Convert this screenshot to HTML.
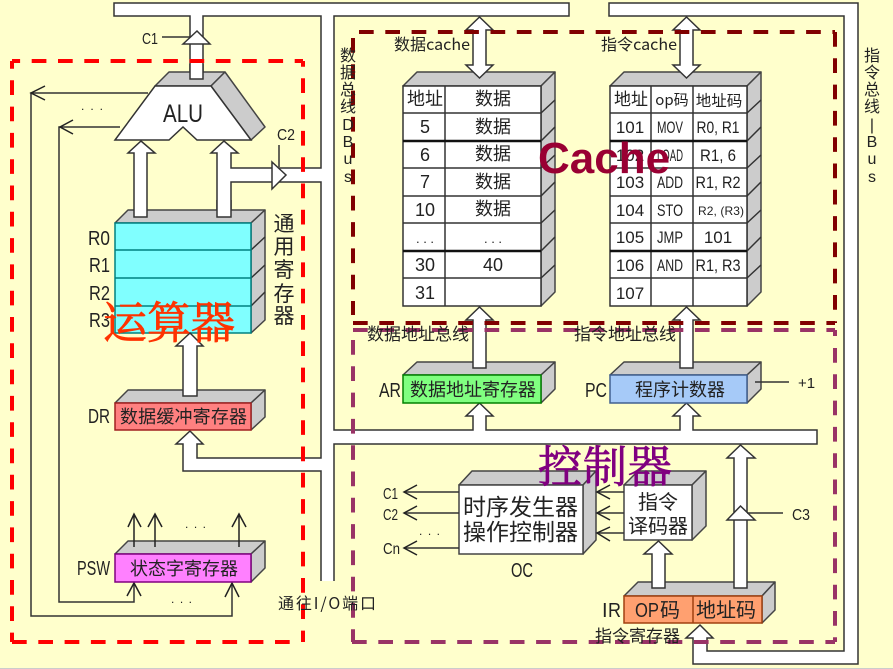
<!DOCTYPE html>
<html><head><meta charset="utf-8"><style>
html,body{margin:0;padding:0;background:#ffffcc;width:893px;height:669px;overflow:hidden}
svg{display:block}
text{font-family:"Liberation Sans","Noto Sans CJK SC",sans-serif;fill:#222}
.z{font-family:"Noto Sans CJK SC","Liberation Sans",sans-serif}
.w{fill:#fff;stroke:#333;stroke-width:1.5;stroke-linejoin:miter}
.g{fill:#ccc;stroke:#444;stroke-width:1.5;stroke-linejoin:round}
.l{fill:none;stroke:#333;stroke-width:1.5}
.t{stroke:#222;stroke-width:1.5;fill:none}
.b{stroke:#111;stroke-width:2.5}
</style></head><body>
<svg width="893" height="669" viewBox="0 0 893 669" xmlns="http://www.w3.org/2000/svg">
<rect width="893" height="669" fill="#ffffcc"/>
<rect y="668" width="893" height="1" fill="#ccc"/>

<!-- data bus -->
<path class="w" d="M114 3H569V16H334V430H473V416H466L479.500 403L493 416H486V430H680V416H673L686.500 403L700 416H693V430H817V444H334V582H321V471H183V444H176L190 431L203 444H197V458H321V182H231V217H217V153H211L224 141L238 153H231V168H321V16H203V79H190V16H114Z"/>
<rect x="320" y="581" width="15" height="3" fill="#ffffcc"/>
<polygon class="w" points="272,162 286,175 272,189"/>
<path class="l" d="M279 145V167"/>

<!-- instruction bus -->
<path class="w" d="M609 3H858V664H693V638H686L700 625L713 638H707V651H844V16H609Z"/>

<!-- C1 arrow -->
<polygon class="w" points="183,44 197,31 210,44"/>
<path class="l" d="M162 37H190"/>

<!-- ALU -->
<polygon class="g" points="155,86 169,72 225,72 211,86"/>
<polygon class="g" points="211,86 225,72 265,127 251,140"/>
<polygon class="w" points="115,140 155,86 211,86 251,140 197,140 183,127 169,140"/>
<path class="w" d="M190 64V79H203V64"/>
<rect x="191" y="60" width="11" height="18" fill="#fff"/>

<!-- left control lines -->
<path class="l" d="M148 93H31V616H232V584"/>
<path class="t" d="M45 86L31 93L45 100"/>
<path class="l" d="M120 127H59V602H134V584"/>
<path class="t" d="M73 120L60 127L73 134"/>
<path class="t" d="M127 596L134 583L141 596M225 597L232 583L239 597"/>

<!-- registers -->
<polygon class="g" points="115,223 128,210 265,210 251,223"/>
<polygon class="g" points="251,223 265,210 265,320 251,333"/>
<path class="l" d="M251 250L265 237M251 278L265 265M251 306L265 292"/>
<rect x="115" y="223" width="136" height="110" fill="#80ffff" stroke="#008080" stroke-width="1.500"/>
<path d="M115 250H251M115 278H251M115 306H251" stroke="#008080" stroke-width="1.500"/>
<polygon class="w" points="134,217 134,153 128,153 141,141 155,153 147,153 147,217"/>
<path class="w" d="M217 200V217H231V200"/>
<rect x="218" y="198" width="12" height="18" fill="#fff"/>

<!-- DR -->
<polygon class="g" points="115,403 128,390 265,390 251,403"/>
<polygon class="g" points="251,403 265,390 265,417 251,430"/>
<rect x="115" y="403" width="136" height="27" fill="#ff8080" stroke="#a02020" stroke-width="1.500"/>
<polygon class="w" points="183,396 183,346 176,346 190,333 203,346 197,346 197,396"/>

<!-- PSW -->
<polygon class="g" points="115,554 128,541 265,541 251,554"/>
<polygon class="g" points="251,554 265,541 265,568 251,582"/>
<rect x="115" y="554" width="136" height="28" fill="#ff80ff" stroke="#800080" stroke-width="1.500"/>
<path class="t" d="M134 547V514M128 527L134 514L141 527M155 547V514M148 527L155 514L162 527M239 547V514M232 527L239 514L246 527"/>

<!-- data table -->
<polygon class="g" points="403,86 417,72 555,72 541,86"/>
<polygon class="g" points="541,86 555,72 555,292 541,306"/>
<path class="l" d="M541 113L555 100M541 141L555 127M541 168L555 155M541 196L555 182M541 223L555 210M541 251L555 237M541 278L555 265"/>
<rect x="403" y="86" width="138" height="220" fill="#fff" stroke="#333" stroke-width="1.500"/>
<path class="l" d="M445 86V306M403 113H541M403 168H541M403 196H541M403 223H541M403 278H541"/>
<path class="b" d="M403 141H541M403 251H541"/>

<!-- instruction table -->
<polygon class="g" points="610,86 624,72 761,72 747,86"/>
<polygon class="g" points="747,86 761,72 761,292 747,306"/>
<path class="l" d="M747 113L761 100M747 141L761 127M747 168L761 155M747 196L761 182M747 223L761 210M747 251L761 237M747 278L761 265"/>
<rect x="610" y="86" width="137" height="220" fill="#fff" stroke="#333" stroke-width="1.500"/>
<path class="l" d="M651 86V306M693 86V306M610 113H747M610 168H747M610 196H747M610 223H747M610 278H747"/>
<path class="b" d="M610 141H747M610 251H747"/>

<!-- double arrows -->
<polygon class="w" points="479.500,17 493,30 486,30 486,65 493,65 479.500,78 466,65 473,65 473,30 466,30"/>
<polygon class="w" points="686.500,17 700,30 693,30 693,65 700,65 686.500,78 673,65 680,65 680,30 673,30"/>

<!-- AR PC -->
<polygon class="g" points="403,375 417,362 555,362 541,375"/>
<polygon class="g" points="541,375 555,362 555,389 541,403"/>
<rect x="403" y="375" width="138" height="28" fill="#80ff80" stroke="#008000" stroke-width="1.500"/>
<polygon class="g" points="610,375 624,362 761,362 747,375"/>
<polygon class="g" points="747,375 761,362 761,389 747,403"/>
<rect x="610" y="375" width="137" height="28" fill="#a6caf8" stroke="#406090" stroke-width="1.500"/>
<polygon class="w" points="473,368 473,320 466,320 479.500,307 493,320 486,320 486,368"/>
<polygon class="w" points="680,368 680,320 673,320 686.500,307 700,320 693,320 693,368"/>
<path class="l" d="M755 382H789"/>

<!-- OC -->
<polygon class="g" points="459,485 472,471 596,471 583,485"/>
<polygon class="g" points="583,485 596,471 596,540 583,554"/>
<rect x="459" y="485" width="124" height="69" fill="#fff" stroke="#444" stroke-width="1.500"/>
<path class="l" d="M459 492H404M459 513H404M459 548H404"/>
<path class="t" d="M417 485L404 492L417 499M417 506L404 513L417 520M417 541L404 548L417 555"/>
<!-- decoder -->
<polygon class="g" points="624,485 638,471 706,471 692,485"/>
<polygon class="g" points="692,485 706,471 706,526 692,540"/>
<rect x="624" y="485" width="68" height="55" fill="#fff" stroke="#444" stroke-width="1.500"/>
<path class="l" d="M624 492H597M624 513H597M624 533H597"/>
<path class="t" d="M610 485L597 492L610 499M610 506L597 513L610 520M610 527L597 533L610 541"/>

<!-- IR -->
<polygon class="g" points="624,596 638,582 775,582 762,596"/>
<polygon class="g" points="762,596 775,582 775,610 762,623"/>
<rect x="624" y="596" width="138" height="27" fill="#ffa070" stroke="#a04010" stroke-width="1.500"/>
<path d="M693 596V623" stroke="#a04010" stroke-width="1.500"/>
<polygon class="w" points="652,588 652,554 644,554 658.500,541 672,554 665,554 665,588"/>
<polygon class="w" points="734,588 734,458 727,458 740.500,445 755,458 747,458 747,588"/>
<polygon class="w" points="727,520 740.500,506 755,520"/>
<path class="l" d="M747 513H783"/>

<!-- dashed -->
<g fill="none" stroke="#ff0000" stroke-width="4" stroke-dasharray="14.700 11.600">
<path d="M12 61H303" stroke-dashoffset="6.600"/>
<path d="M12 61V642" stroke-dashoffset="7"/>
<path d="M303 61V642" stroke-dashoffset="9"/>
<path d="M12 642H291"/>
</g>
<g fill="none" stroke="#800000" stroke-width="4" stroke-dasharray="14.700 11.600">
<path d="M359 32H835"/>
<path d="M353 38V315"/>
<path d="M835 32V323"/>
<path d="M353 323H835"/>
</g>
<g fill="none" stroke="#993366" stroke-width="4" stroke-dasharray="14.700 11.600">
<path d="M353 330H835"/>
<path d="M353 340V642"/>
<path d="M835 348V642"/>
<path d="M835 330V336" stroke-dasharray="none"/>
<path d="M352 642H835"/>
</g>

<!-- labels -->
<text x="142" y="44" font-size="16" textLength="16" lengthAdjust="spacingAndGlyphs">C1</text>
<text x="163" y="122" font-size="25" textLength="40" lengthAdjust="spacingAndGlyphs">ALU</text>
<text x="81" y="110" font-size="12" textLength="22">. . .</text>
<text x="277" y="140" font-size="16" textLength="18" lengthAdjust="spacingAndGlyphs">C2</text>
<text x="88" y="245" font-size="20" textLength="22" lengthAdjust="spacingAndGlyphs">R0</text>
<text x="89" y="272" font-size="20" textLength="21" lengthAdjust="spacingAndGlyphs">R1</text>
<text x="89" y="300" font-size="20" textLength="21" lengthAdjust="spacingAndGlyphs">R2</text>
<text x="89" y="327" font-size="20" textLength="21" lengthAdjust="spacingAndGlyphs">R3</text>
<g font-size="21" text-anchor="middle">
<text class="z" x="284" y="231">通</text><text class="z" x="284" y="254">用</text><text class="z" x="284" y="277">寄</text><text class="z" x="284" y="301">存</text><text class="z" x="284" y="323">器</text>
</g>
<g font-size="16" text-anchor="middle">
<text class="z" x="348" y="61">数</text><text class="z" x="348" y="78">据</text><text class="z" x="348" y="95">总</text><text class="z" x="348" y="112">线</text>
<text x="348" y="130">D</text><text x="348" y="147">B</text><text x="348" y="164">u</text><text x="348" y="182">s</text>
<text class="z" x="872" y="61">指</text><text class="z" x="872" y="78">令</text><text class="z" x="872" y="95">总</text><text class="z" x="872" y="112">线</text>
<text x="872" y="130">|</text><text x="872" y="147">B</text><text x="872" y="164">u</text><text x="872" y="182">s</text>
</g>
<text class="z" x="394" y="50" font-size="16" textLength="76" lengthAdjust="spacingAndGlyphs">数据cache</text>
<text class="z" x="601" y="50" font-size="16" textLength="76" lengthAdjust="spacingAndGlyphs">指令cache</text>

<!-- data table text -->
<g font-size="18" text-anchor="middle">
<text class="z" x="425" y="105">地址</text><text class="z" x="493" y="105">数据</text>
<text x="425" y="133">5</text><text class="z" x="493" y="133">数据</text>
<text x="425" y="161">6</text><text class="z" x="493" y="160">数据</text>
<text x="425" y="188">7</text><text class="z" x="493" y="188">数据</text>
<text x="425" y="216">10</text><text class="z" x="493" y="215">数据</text>
<text x="425" y="243" font-size="13">. . .</text><text x="493" y="243" font-size="13">. . .</text>
<text x="425" y="271">30</text><text x="493" y="271">40</text>
<text x="425" y="299">31</text>
</g>
<!-- instruction table text -->
<g font-size="17" text-anchor="middle">
<text class="z" x="631" y="105" font-size="17">地址</text><text class="z" x="672" y="105" font-size="15">op码</text><text class="z" x="719" y="106" font-size="15.500">地址码</text>
<text x="630" y="133">101</text><text x="670" y="133" textLength="26" lengthAdjust="spacingAndGlyphs">MOV</text><text x="718" y="133" textLength="43" lengthAdjust="spacingAndGlyphs">R0, R1</text>
<text x="630" y="161">102</text><text x="670" y="161" textLength="26" lengthAdjust="spacingAndGlyphs">LOAD</text><text x="718" y="161" textLength="36" lengthAdjust="spacingAndGlyphs">R1, 6</text>
<text x="630" y="188">103</text><text x="670" y="188" textLength="26" lengthAdjust="spacingAndGlyphs">ADD</text><text x="718" y="188" textLength="45" lengthAdjust="spacingAndGlyphs">R1, R2</text>
<text x="630" y="216">104</text><text x="670" y="216" textLength="26" lengthAdjust="spacingAndGlyphs">STO</text><text x="721" y="215" font-size="12" textLength="46">R2, (R3)</text>
<text x="630" y="243">105</text><text x="670" y="243" textLength="26" lengthAdjust="spacingAndGlyphs">JMP</text><text x="718" y="243">101</text>
<text x="630" y="271">106</text><text x="670" y="271" textLength="26" lengthAdjust="spacingAndGlyphs">AND</text><text x="718" y="271" textLength="45" lengthAdjust="spacingAndGlyphs">R1, R3</text>
<text x="630" y="299">107</text>
</g>

<text class="z" x="367" y="340" font-size="17" textLength="102">数据地址总线</text>
<text class="z" x="574" y="340" font-size="17" textLength="102">指令地址总线</text>
<text x="379" y="397" font-size="20" textLength="22" lengthAdjust="spacingAndGlyphs">AR</text>
<text x="585" y="397" font-size="20" textLength="22" lengthAdjust="spacingAndGlyphs">PC</text>
<text class="z" x="410" y="396" font-size="18" textLength="126">数据地址寄存器</text>
<text class="z" x="635" y="396" font-size="18" textLength="90">程序计数器</text>
<text x="798" y="388" font-size="15">+1</text>

<text x="88" y="423" font-size="20" textLength="22" lengthAdjust="spacingAndGlyphs">DR</text>
<text class="z" x="120" y="423" font-size="18" textLength="127">数据缓冲寄存器</text>
<text x="77" y="575" font-size="20" textLength="33" lengthAdjust="spacingAndGlyphs">PSW</text>
<text class="z" x="130" y="575" font-size="18" textLength="108">状态字寄存器</text>
<text x="185" y="528" font-size="12" textLength="21">. . .</text>
<text x="171" y="603" font-size="12" textLength="21">. . .</text>
<text class="z" x="278" y="609" font-size="16" textLength="98" lengthAdjust="spacing">通往I/O端口</text>

<text x="383" y="499" font-size="16" textLength="15" lengthAdjust="spacingAndGlyphs">C1</text>
<text x="383" y="520" font-size="16" textLength="15" lengthAdjust="spacingAndGlyphs">C2</text>
<text x="383" y="554" font-size="16" textLength="17" lengthAdjust="spacingAndGlyphs">Cn</text>
<text x="419" y="535" font-size="12" textLength="21">. . .</text>
<text class="z" x="463" y="515" font-size="23" textLength="115">时序发生器</text>
<text class="z" x="463" y="540" font-size="23" textLength="115">操作控制器</text>
<text x="511" y="577" font-size="20" textLength="22" lengthAdjust="spacingAndGlyphs">OC</text>
<text class="z" x="638" y="509" font-size="20" textLength="40">指令</text>
<text class="z" x="628" y="533" font-size="20" textLength="60">译码器</text>
<text x="635" y="617" font-size="20" textLength="24" lengthAdjust="spacingAndGlyphs">OP</text>
<text class="z" x="660" y="617" font-size="20">码</text>
<text class="z" x="696" y="617" font-size="20" textLength="60">地址码</text>
<text x="602" y="617" font-size="20">I</text><text x="608" y="617" font-size="20" textLength="13" lengthAdjust="spacingAndGlyphs">R</text>
<text class="z" x="595" y="642" font-size="17" textLength="85">指令寄存器</text>
<text x="792" y="520" font-size="16" textLength="18" lengthAdjust="spacingAndGlyphs">C3</text>

<!-- large overlays -->
<text x="103" y="338" font-size="44" textLength="132" style="font-family:'Noto Serif CJK SC',serif;fill:#ff3300;stroke:#ff3300;stroke-width:.8">运算器</text>
<text x="538" y="482" font-size="44" textLength="134" style="font-family:'Noto Serif CJK SC',serif;fill:#800080;stroke:#800080;stroke-width:.8">控制器</text>
<text x="538" y="173" font-size="44" font-weight="bold" style="fill:#990033">Cache</text>
</svg>
</body></html>
